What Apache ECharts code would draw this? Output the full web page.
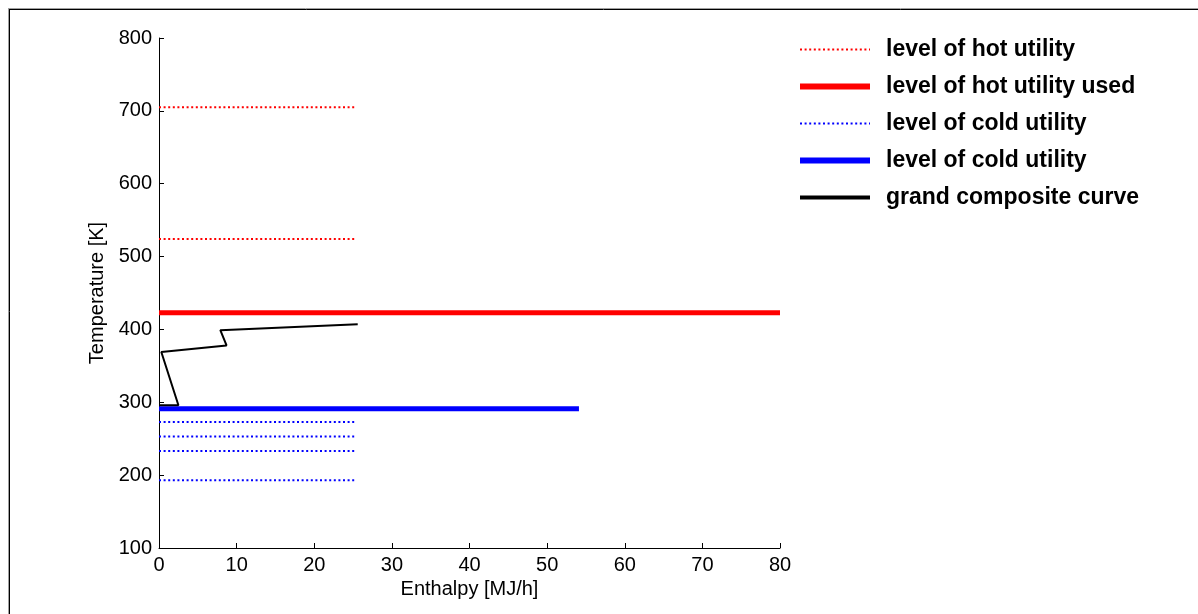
<!DOCTYPE html>
<html>
<head>
<meta charset="utf-8">
<script src="https://cdn.jsdelivr.net/npm/echarts@6/dist/echarts.min.js"></script>
<style>
html,body{margin:0;padding:0;background:#fff;}
#chart{width:1198px;height:614px;}
</style>
</head>
<body>
<div id="chart"></div>
<script>
// ---- data ----
const xTicks = [0, 10, 20, 30, 40, 50, 60, 70, 80];
const yTicks = [100, 200, 300, 400, 500, 600, 700, 800];
const hotUtilityLevels = [705, 524];          // K, dotted red
const coldUtilityLevels = [273, 253, 233, 193]; // K, dotted blue
const utilityLevelEnd = 25.3;                  // MJ/h, length of dotted level lines
const hotUtilityUsed = 423;                    // K
const hotUtilityUsedEnd = 80;                  // MJ/h
const coldUtilityUsed = 291;                   // K
const coldUtilityUsedEnd = 54.1;               // MJ/h
const gccH = [0, 2.5, 0.3, 8.7, 7.9, 25.6];    // MJ/h
const gccT = [296, 296, 369, 378, 399, 407];   // K
const legendNames = ['level of hot utility', 'level of hot utility used', 'level of cold utility', 'level of cold utility ', 'grand composite curve'];

const FONT = '"Liberation Sans", Arial, sans-serif';
const dotted = [2, 2.6];
const series = [];
hotUtilityLevels.forEach(t => series.push({
  name: legendNames[0], type: 'line', symbol: 'none',
  data: [[0, t], [utilityLevelEnd, t]],
  lineStyle: {color: '#ff0000', width: 2, type: dotted}, itemStyle: {color: '#ff0000'}
}));
series.push({
  name: legendNames[1], type: 'line', symbol: 'none',
  data: [[0, hotUtilityUsed], [hotUtilityUsedEnd, hotUtilityUsed]],
  lineStyle: {color: '#ff0000', width: 5}, itemStyle: {color: '#ff0000'}
});
coldUtilityLevels.forEach(t => series.push({
  name: legendNames[2], type: 'line', symbol: 'none',
  data: [[0, t], [utilityLevelEnd, t]],
  lineStyle: {color: '#0000ff', width: 2, type: dotted}, itemStyle: {color: '#0000ff'}
}));
series.push({
  name: legendNames[3], type: 'line', symbol: 'none',
  data: [[0, coldUtilityUsed], [coldUtilityUsedEnd, coldUtilityUsed]],
  lineStyle: {color: '#0000ff', width: 5}, itemStyle: {color: '#0000ff'}
});
series.push({
  name: legendNames[4], type: 'line', symbol: 'none',
  data: gccH.map((h, i) => [h, gccT[i]]),
  lineStyle: {color: '#000000', width: 2}, itemStyle: {color: '#000000'}
});

const legendLine = [
  {color: '#ff0000', width: 2, type: dotted},
  {color: '#ff0000', width: 6, type: 'solid'},
  {color: '#0000ff', width: 2, type: dotted},
  {color: '#0000ff', width: 6, type: 'solid'},
  {color: '#000000', width: 4, type: 'solid'}
];

const chart = echarts.init(document.getElementById('chart'), null, {renderer: 'canvas'});
chart.setOption({
  animation: false,
  backgroundColor: '#ffffff',
  grid: {left: 159, top: 38, right: 418, bottom: 66, containLabel: false},
  xAxis: {
    type: 'value', min: xTicks[0], max: xTicks[xTicks.length - 1], interval: 10,
    name: 'Enthalpy [MJ/h]', nameLocation: 'middle', nameGap: 23,
    nameTextStyle: {fontFamily: FONT, fontSize: 20, color: '#000'},
    axisLine: {show: true, lineStyle: {color: '#000', width: 1}},
    axisTick: {show: true, inside: true, length: 5, lineStyle: {color: '#000'}},
    axisLabel: {fontFamily: FONT, fontSize: 20, color: '#000', margin: 7},
    splitLine: {show: false}
  },
  yAxis: {
    type: 'value', min: yTicks[0], max: yTicks[yTicks.length - 1], interval: 100,
    name: 'Temperature [K]', nameLocation: 'middle', nameGap: 52, nameRotate: 90,
    nameTextStyle: {fontFamily: FONT, fontSize: 20, color: '#000'},
    axisLine: {show: true, lineStyle: {color: '#000', width: 1}},
    axisTick: {show: true, inside: true, length: 5, lineStyle: {color: '#000'}},
    axisLabel: {fontFamily: FONT, fontSize: 20, color: '#000', margin: 7},
    splitLine: {show: false}
  },
  legend: {
    orient: 'vertical', left: 797, top: 38, padding: 0, itemWidth: 70, itemHeight: 22, itemGap: 14,
    itemStyle: {opacity: 0},
    textStyle: {fontFamily: FONT, fontSize: 23, fontWeight: 'bold', color: '#000', padding: [0, 0, 0, 11]},
    data: legendNames.map((n, i) => ({name: n, lineStyle: legendLine[i], itemStyle: {opacity: 0}})),
    formatter: n => n.trim()
  },
  graphic: [
    {type: 'line', shape: {x1: 8, y1: 8.5, x2: 1198, y2: 8.5}, style: {stroke: '#a0a0a0', lineWidth: 1}, silent: true},
    {type: 'line', shape: {x1: 8.5, y1: 8, x2: 8.5, y2: 614}, style: {stroke: '#a0a0a0', lineWidth: 1}, silent: true},
    {type: 'line', shape: {x1: 9, y1: 9.5, x2: 1198, y2: 9.5}, style: {stroke: '#000', lineWidth: 1}, silent: true},
    {type: 'line', shape: {x1: 9.5, y1: 9, x2: 9.5, y2: 614}, style: {stroke: '#000', lineWidth: 1}, silent: true}
  ],
  series: series
});
</script>
</body>
</html>
